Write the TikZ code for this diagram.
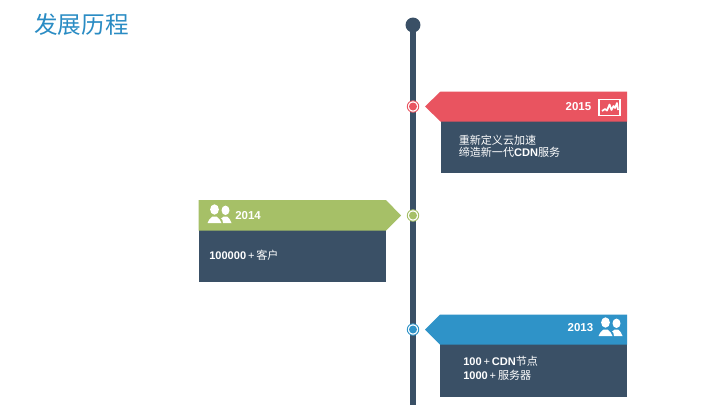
\documentclass[tikz,border=0pt]{standalone}
\usepackage{fontspec}
\setmainfont{Liberation Sans}
\newfontfamily\cjk{Noto Sans CJK SC}
\definecolor{slatebody}{HTML}{3A5066}
\definecolor{redband}{HTML}{E95460}
\definecolor{greenband}{HTML}{A6C067}
\definecolor{blueband}{HTML}{2F93C8}
\definecolor{titleblue}{HTML}{2A8CC4}
\newcommand{\lat}[1]{{\bfseries #1}}
\tikzset{
 x=0.75pt,y=-0.75pt,
 bodybox/.style={fill=slatebody,draw=none},
 axisline/.style={draw=slatebody,line width=3.8pt},
 topdot/.style={circle,fill=slatebody,minimum size=11.2pt,inner sep=0pt},
 ringdot/.style={circle,draw=#1,fill=white,line width=0.7pt,minimum size=8.6pt,inner sep=0pt,path picture={\fill[#1] (path picture bounding box.center) circle (3pt);}},
 yeartext/.style={text=white,font=\bfseries\fontsize{8.6}{10}\selectfont,inner sep=0pt},
 bodytext/.style={text=white,font=\fontsize{8.3}{9}\selectfont,align=left,inner sep=0pt},
 titletext/.style={text=titleblue,font=\cjk\fontsize{17.7}{20}\selectfont,inner sep=0pt},
 pics/people/.style={code={
  \fill[white] (5.5,-0.5) ellipse [x radius=4.4,y radius=5.2];
  \fill[white] (-1.5,13) .. controls (-1.5,9.5) and (2,9) .. (3.5,6.5) -- (7.5,6.5) .. controls (9,9) and (12.5,9.5) .. (12.5,13) -- cycle;
  \fill[white] (16.5,0.3) ellipse [x radius=4,y radius=4.8];
  \fill[white] (14,13) .. controls (14,10) and (13,9) .. (12,8.5) .. controls (13.5,8) and (14,7.5) .. (14.8,6.5) -- (18.2,6.5) .. controls (19.5,9) and (22.5,9.5) .. (22.5,13) -- cycle;
 }},
}
\begin{document}
\begin{tikzpicture}
\useasboundingbox (0,0) rectangle (720,405);
\fill[white] (0,0) rectangle (720,405);
\node[titletext,anchor=west] (title) at (34,25) {发展历程};
% axis
\coordinate (axisend) at (413,405);
\node[topdot] (top) at (413,25) {};
\draw[axisline] (top.center) -- (axisend);
% 2015
\path[bodybox] (440.5,121) rectangle (627,173);
\path[fill=redband] (425,106.5) -- (440.5,91.5) -- (627,91.5) -- (627,121.5) -- (440.5,121.5) -- cycle;
\node[ringdot=redband] (d15) at (413,106.5) {};
\node[yeartext,anchor=east] (y15) at (591.5,106.5) {2015};
\draw[white,line width=1.1pt] (599,99.5) rectangle (620,115.5);
\draw[white,line width=1.3pt,line join=round] (602,111) -- (605,109) -- (607,110.5) -- (609.5,104.5) -- (611.5,110) -- (613.5,106) -- (615,108) -- (617,103) -- (618,110);
\node[bodytext,anchor=north west] (t15) at (458.5,134.5) {{\cjk 重新定义云加速}\\{\cjk 缔造新一代}\lat{CDN}{\cjk 服务}};
% 2014
\path[bodybox] (198.5,230) rectangle (386,282);
\path[fill=greenband] (198.5,200) -- (386,200) -- (401,215.5) -- (386,230.5) -- (198.5,230.5) -- cycle;
\node[ringdot=greenband] (d14) at (413,215.5) {};
\path (209,210) pic {people};
\node[yeartext,anchor=west] (y14) at (235,216) {2014};
\node[bodytext,anchor=north west] (t14) at (209,250) {\lat{100000}\,+\,{\cjk 客户}};
% 2013
\path[bodybox] (440,344) rectangle (627,396.5);
\path[fill=blueband] (425,329.5) -- (440,314.5) -- (627,314.5) -- (627,344.5) -- (440,344.5) -- cycle;
\node[ringdot=blueband] (d13) at (413,329.5) {};
\node[yeartext,anchor=east] (y13) at (593.5,328) {2013};
\path (600,323) pic {people};
\node[bodytext,anchor=north west,font=\fontsize{8.3}{10.5}\selectfont] (t13) at (463,356) {\lat{100}\,+\,\lat{CDN}{\cjk 节点}\\\lat{1000}\,+\,{\cjk 服务器}};
\end{tikzpicture}
\end{document}
